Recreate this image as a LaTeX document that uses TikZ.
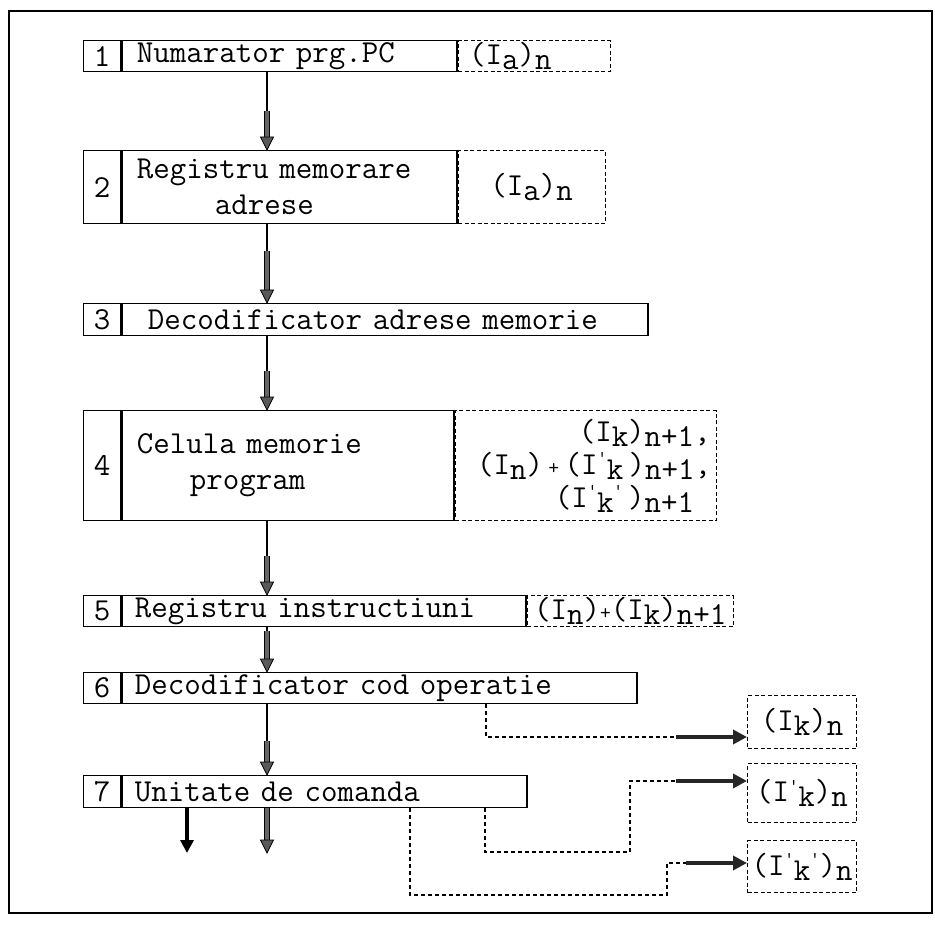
\documentclass[tikz,border=0pt]{standalone}
\usetikzlibrary{arrows.meta,calc}

% typewriter text used in every box
\newcommand{\tfont}{\ttfamily\fontsize{32}{36}\selectfont}
% lowered index letters, primes, small plus sign
\newcommand{\lo}[1]{\raisebox{-0.35ex}{#1}}
\newcommand{\pr}{\raisebox{0.75ex}{\fontsize{18}{18}\selectfont'}}
\newcommand{\pk}{\pr\lo{k}}
\newcommand{\pl}{{\fontsize{21}{21}\selectfont+}}

\tikzset{
  frame/.style={draw, line width=2.2pt},
  cell/.style={draw, line width=1.3pt, inner ysep=0pt, font=\tfont, anchor=north west},
  numcell/.style={cell, minimum width=37pt, inner xsep=0pt},
  dcell/.style={cell, dash pattern=on 4pt off 2.5pt, line width=1.1pt},
  wire/.style={line width=1.3pt},
  dline/.style={line width=1.1pt, dash pattern=on 4pt off 3pt},
  shaft/.style={draw=black, line width=1.1pt, double=black!60, double distance=3.2pt},
  head/.style={fill=black!65, draw=black, line width=0.8pt, line join=miter},
  solidbus/.style={line width=4pt, -{Triangle[length=13pt,width=13pt]}},
  sidebus/.style={line width=4pt, draw=black!85, -{Triangle[length=14pt,width=14pt]}},
}

% vertical bus arrow: plain line, then double shaft, then head on the target box
\newcommand{\busarrow}[3]{%
  \draw[wire] (#1.south -| ax) -- ++(0,#3) coordinate (bm);
  \draw[shaft] (bm) -- ($(#2.north -| ax)+(0,-12)$);
  \filldraw[head] (#2.north -| ax) -- ++(-6.5,-13) -- ++(13,0) -- cycle;
}

\begin{document}
\begin{tikzpicture}[x=1pt,y=-1pt]
\useasboundingbox (0,0) rectangle (935,928);
\draw[frame] (9,11) rectangle (932,913);

% 1
\node[numcell, minimum height=31pt] (n1) at (83,40) {1};
\node[cell, minimum height=31pt, inner xsep=15pt, text width=305pt, align=left] (b1) at (n1.north east) {Numarator prg.PC};
\node[dcell, minimum height=31pt, inner xsep=11pt, text width=130pt, align=left] (d1) at (b1.north east) {(I\lo{a})\lo{n}};

% 2
\node[numcell, minimum height=73pt] (n2) at (83,150) {2};
\node[cell, minimum height=73pt, inner xsep=15pt, text width=305pt, align=left] (b2) at (n2.north east) {Registru memorare\\\hspace*{78pt}adrese};
\node[dcell, minimum height=73pt, inner xsep=10pt, text width=127pt, align=center] (d2) at (b2.north east) {(I\lo{a})\lo{n}};

% 3
\node[numcell, minimum height=32pt] (n3) at (83,303) {3};
\node[cell, minimum height=32pt, inner xsep=26pt, text width=474pt, align=left] (b3) at (n3.north east) {Decodificator adrese memorie};

% 4
\node[numcell, minimum height=110pt] (n4) at (83,410) {4};
\node[cell, minimum height=110pt, inner xsep=15pt, text width=302pt, align=left] (b4) at (n4.north east) {Celula memorie\\\hspace*{53pt}program};
\node[dcell, minimum height=110pt, inner xsep=22pt, text width=217pt, align=right, font=\ttfamily\fontsize{32}{33}\selectfont] (d4) at (b4.north east)
  {(I\lo{k})\lo{n+1}\rlap{,}\\(I\lo{n})\,\pl\,(I\pk\,)\lo{n+1}\rlap{,}\\(I\pk\pr\,)\lo{n+1}};

% 5
\node[numcell, minimum height=31pt] (n5) at (83,595) {5};
\node[cell, minimum height=31pt, inner xsep=13pt, text width=378pt, align=left] (b5) at (n5.north east) {Registru instructiuni};
\node[dcell, minimum height=31pt, inner xsep=7pt, text width=192pt, align=left] (d5) at (b5.north east) {(I\lo{n})\pl(I\lo{k})\lo{n+1}};

% 6
\node[numcell, minimum height=31pt] (n6) at (83,672) {6};
\node[cell, minimum height=31pt, inner xsep=13pt, text width=489pt, align=left] (b6) at (n6.north east) {Decodificator cod operatie};

% 7
\node[numcell, minimum height=32pt] (n7) at (83,775) {7};
\node[cell, minimum height=32pt, inner xsep=13pt, text width=379pt, align=left] (b7) at (n7.north east) {Unitate de comanda};

% output boxes
\node[dcell, minimum width=109pt, minimum height=53pt, inner xsep=0pt] (r1) at (747,695) {(I\lo{k})\lo{n}};
\node[dcell, minimum width=109pt, minimum height=59pt, inner xsep=0pt] (r2) at (747,763) {(I\pk)\lo{n}};
\node[dcell, minimum width=109pt, minimum height=52pt, inner xsep=0pt] (r3) at (747,840) {(I\pk\pr)\lo{n}};

% main bus arrows
\coordinate (ax) at (267,0);
\busarrow{b1}{b2}{39}
\busarrow{b2}{b3}{27}
\busarrow{b3}{b4}{35}
\busarrow{b4}{b5}{35}
\busarrow{b5}{b6}{4}
\busarrow{b6}{b7}{37}

% outputs of the control unit
\coordinate (o1) at (187,853);
\coordinate (o2) at (267,853);
\draw[solidbus] (b7.south -| o1) -- (o1);
\draw[shaft] (b7.south -| o2) -- ++(0,33);
\filldraw[head] (o2) -- ++(-6.5,-13) -- ++(13,0) -- cycle;

% signal lines to the output boxes
\coordinate (xA) at (486,0);
\coordinate (hA) at (676,737);
\draw[dline] (b6.south -| xA) |- (hA);
\draw[sidebus] (hA) -- (r1.west |- hA);

\coordinate (xB) at (485,0);
\coordinate (cB) at (630,852);
\coordinate (hB) at (676,781);
\draw[dline] (b7.south -| xB) |- (cB) |- (hB);
\draw[sidebus] (hB) -- (r2.west |- hB);

\coordinate (xC) at (410,0);
\coordinate (cC) at (667,895);
\coordinate (hC) at (686,863);
\draw[dline] (b7.south -| xC) |- (cC) |- (hC);
\draw[sidebus] (hC) -- (r3.west |- hC);
\end{tikzpicture}
\end{document}
